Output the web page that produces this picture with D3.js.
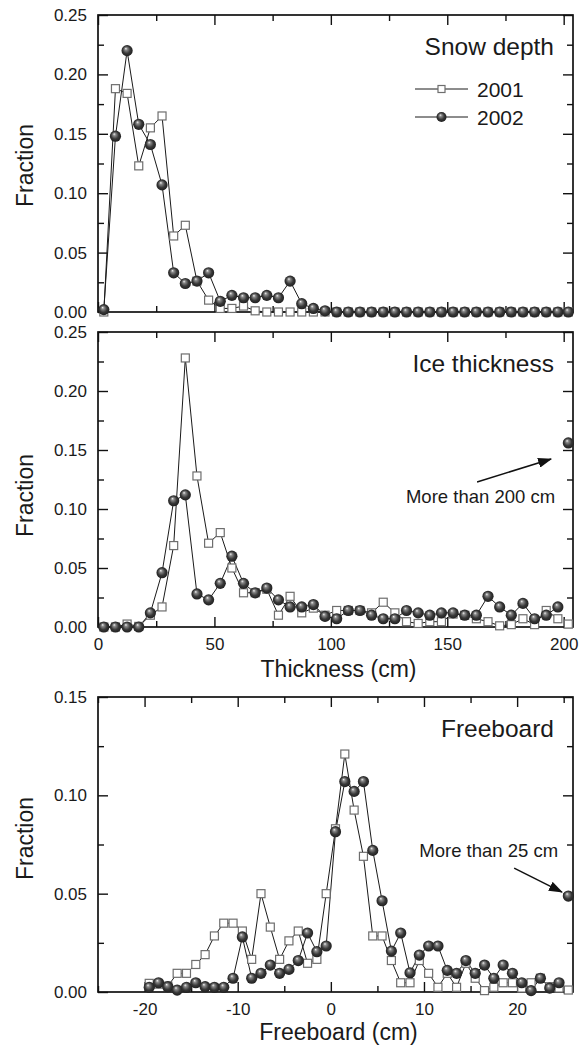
<!DOCTYPE html>
<html>
<head>
<meta charset="utf-8">
<script src="https://cdn.jsdelivr.net/npm/d3@7"></script>
<style>
body { margin: 0; background: #fff; }
text { font-family: "Liberation Sans", Arial, sans-serif; fill: #1a1a1a; }
</style>
</head>
<body>
<div id="wrapper"></div>
<script>
// Data: bin centres (last bin = "more than" class)
const thickBins = [2.5,7.5,12.5,17.5,22.5,27.5,32.5,37.5,42.5,47.5,52.5,57.5,62.5,67.5,72.5,77.5,82.5,87.5,92.5,97.5,
  102.5,107.5,112.5,117.5,122.5,127.5,132.5,137.5,142.5,147.5,152.5,157.5,162.5,167.5,172.5,177.5,182.5,187.5,192.5,197.5,202]
const freeBins = [-19.5,-18.5,-17.5,-16.5,-15.5,-14.5,-13.5,-12.5,-11.5,-10.5,-9.5,-8.5,-7.5,-6.5,-5.5,-4.5,-3.5,-2.5,-1.5,-0.5,
  0.5,1.5,2.5,3.5,4.5,5.5,6.5,7.5,8.5,9.5,10.5,11.5,12.5,13.5,14.5,15.5,16.5,17.5,18.5,19.5,20.5,21.5,22.5,23.5,24.5,25.5]

const snow2001 = [0,0.188,0.184,0.123,0.155,0.165,0.064,0.073,0.026,0.010,0.003,0.003,0.005,0.001,
  0,0,0,0,0,0,0,0,0,0,0,0,0,0,0,0,0,0,0,0,0,0,0,0,0,0,0]
const snow2002 = [0.002,0.148,0.220,0.158,0.141,0.107,0.033,0.024,0.026,0.033,0.009,0.014,0.012,0.012,0.014,0.012,0.026,0.007,0.003,0.001,
  0,0,0,0,0,0,0,0,0,0,0,0,0,0,0,0,0,0,0,0,0]

const ice2001 = [0,0,0.0025,0.0005,0.010,0.017,0.069,0.228,0.128,0.071,0.080,0.050,0.029,0.029,0.032,0.010,0.026,0.012,0.016,0.010,
  0.014,0.014,0.014,0.012,0.021,0.012,0.0045,0.003,0.0045,0.0045,0.011,0.010,0.007,0.0045,0.001,0.002,0.007,0.002,0.014,0.007,0.0025]
const ice2002 = [0,0,0,0,0.012,0.046,0.107,0.112,0.028,0.023,0.037,0.060,0.037,0.029,0.033,0.023,0.017,0.017,0.019,0.009,
  0.007,0.014,0.014,0.010,0.007,0.007,0.014,0.012,0.010,0.012,0.012,0.010,0.010,0.026,0.017,0.010,0.020,0.007,0.010,0.017,0.156]

const free2001 = [0.0044,0.004,0.003,0.0095,0.0095,0.014,0.019,0.0285,0.035,0.035,0.031,0.0166,0.050,0.033,0.0166,0.026,0.031,0.0146,0.0166,0.050,
  0.083,0.121,0.0925,0.069,0.0285,0.0285,0.016,0.0047,0.0047,0.016,0.0095,0.0024,0.0095,0.0024,0.0146,0.007,0.0007,0.0024,0.0047,0.0047,
  0.002,0.0047,0.007,0.0027,0.002,0.001]
const free2002 = [0.0024,0.0047,0.0027,0.001,0.0024,0.0047,0.0027,0.0024,0.0024,0.007,0.028,0.007,0.0095,0.0137,0.0095,0.0115,0.016,0.030,0.0205,0.0234,
  0.0815,0.107,0.102,0.107,0.072,0.0464,0.0208,0.030,0.0098,0.0188,0.0234,0.0234,0.011,0.0095,0.016,0.0095,0.0137,0.007,0.0137,0.0095,
  0.0047,0.0007,0.007,0.002,0.0047,0.0488]

// Ticks
const thickTicks = [0,50,100,150,200]
const thickMinor = [25,75,125,175]
const freeTicks = [-20,-10,0,10,20]
const freeMinor = [-25,-15,-5,5,15,25]
const fracTicks25 = [0,0.05,0.10,0.15,0.20,0.25]
const fracMinor25 = [0.025,0.075,0.125,0.175,0.225]
const fracTicks15 = [0,0.05,0.10,0.15]
const fracMinor15 = [0.025,0.075,0.125]

const seriesNames = ["2001","2002"]

// Chart dimensions
const dimensions = {
  width: 587, height: 1045,
  left: 98, right: 573,
  panels: [{top: 15, bottom: 312}, {top: 332, bottom: 627}, {top: 697, bottom: 992}]
}

const svg = d3.select("#wrapper").append("svg")
  .attr("width", dimensions.width)
  .attr("height", dimensions.height)
  .style("display", "block")

const defs = svg.append("defs")
const ball = defs.append("radialGradient").attr("id", "ball")
  .attr("cx", "0.5").attr("cy", "0.5").attr("r", "0.55")
  .attr("fx", "0.38").attr("fy", "0.3")
ball.append("stop").attr("offset", "0%").attr("stop-color", "#f4f4f4")
ball.append("stop").attr("offset", "22%").attr("stop-color", "#8a8a8a")
ball.append("stop").attr("offset", "60%").attr("stop-color", "#383838")
ball.append("stop").attr("offset", "100%").attr("stop-color", "#1a1a1a")

defs.append("marker").attr("id", "arrowhead")
  .attr("markerUnits", "userSpaceOnUse")
  .attr("markerWidth", 14).attr("markerHeight", 10)
  .attr("refX", 13).attr("refY", 5).attr("orient", "auto")
  .append("path").attr("d", "M0,0 L14,5 L0,10 Z").attr("fill", "#111")

function drawSquare(g, cx, cy, s) {
  g.append("rect").attr("x", cx - s / 2).attr("y", cy - s / 2)
    .attr("width", s).attr("height", s)
    .attr("fill", "#fff").attr("stroke", "#6e6e6e").attr("stroke-width", 1.2)
}

function drawPanel(p) {
  const dim = dimensions.panels[p.index]
  const xScale = d3.scaleLinear().domain(p.xDomain).range([dimensions.left, dimensions.right])
  const yScale = d3.scaleLinear().domain(p.yDomain).range([dim.bottom, dim.top])
  const g = svg.append("g")

  // axes, ticks pointing inward
  const addAxis = (axis, transform) => {
    const a = g.append("g").attr("transform", transform).call(axis)
    a.select(".domain").remove()
    a.selectAll("line").attr("stroke", "#111").attr("stroke-width", 1.4)
    a.selectAll("text").style("font-size", "17px").attr("fill", "#1a1a1a")
    return a
  }
  const fmt = d3.format(".2f")
  addAxis(d3.axisLeft(yScale).tickValues(p.yTicks).tickSize(-10).tickPadding(11).tickFormat(fmt),
    `translate(${dimensions.left},0)`)
  addAxis(d3.axisLeft(yScale).tickValues(p.yMinor).tickSize(-6).tickFormat(""),
    `translate(${dimensions.left},0)`)
  addAxis(d3.axisRight(yScale).tickValues(p.yTicks).tickSize(-10).tickFormat(""),
    `translate(${dimensions.right},0)`)
  addAxis(d3.axisRight(yScale).tickValues(p.yMinor).tickSize(-6).tickFormat(""),
    `translate(${dimensions.right},0)`)
  addAxis(d3.axisTop(xScale).tickValues(p.xTicks).tickSize(-10).tickFormat(""),
    `translate(0,${dim.top})`)
  addAxis(d3.axisTop(xScale).tickValues(p.xMinor).tickSize(-6).tickFormat(""),
    `translate(0,${dim.top})`)
  addAxis(d3.axisBottom(xScale).tickValues(p.xTicks).tickSize(-10).tickPadding(11)
    .tickFormat(p.xLabels ? d => String(d) : ""), `translate(0,${dim.bottom})`)
  addAxis(d3.axisBottom(xScale).tickValues(p.xMinor).tickSize(-6).tickFormat(""),
    `translate(0,${dim.bottom})`)

  // frame
  g.append("rect")
    .attr("x", dimensions.left).attr("y", dim.top)
    .attr("width", dimensions.right - dimensions.left).attr("height", dim.bottom - dim.top)
    .attr("fill", "none").attr("stroke", "#111").attr("stroke-width", 1.7)

  // y label
  g.append("text")
    .attr("transform", `translate(33,${(dim.top + dim.bottom) / 2 + p.labelShift}) rotate(-90)`)
    .attr("text-anchor", "middle").style("font-size", "23px")
    .text("Fraction")

  // x label
  if (p.xTitle) {
    g.append("text")
      .attr("x", (dimensions.left + dimensions.right) / 2 + 3).attr("y", dim.bottom + p.xTitleOffset)
      .attr("text-anchor", "middle").style("font-size", "23px")
      .text(p.xTitle)
  }

  // panel title
  g.append("text")
    .attr("x", 554).attr("y", dim.top + 40)
    .attr("text-anchor", "end").style("font-size", "24.5px")
    .text(p.title)

  // series: line over regular bins, markers on all bins
  const line = d3.line().x(d => xScale(d[0])).y(d => yScale(d[1]))
  const pts2001 = p.bins.map((b, i) => [b, p.s2001[i]])
  const pts2002 = p.bins.map((b, i) => [b, p.s2002[i]])
  ;[pts2001, pts2002].forEach(pts => {
    g.append("path").datum(pts.slice(0, -1)).attr("d", line)
      .attr("fill", "none").attr("stroke", "#1a1a1a").attr("stroke-width", 1)
  })
  const sq = g.append("g")
  pts2001.forEach(d => drawSquare(sq, xScale(d[0]), yScale(d[1]), 8))
  g.append("g").selectAll("circle").data(pts2002).join("circle")
    .attr("cx", d => xScale(d[0])).attr("cy", d => yScale(d[1]))
    .attr("r", 5.6).attr("fill", "url(#ball)")

  // "more than" annotation
  if (p.note) {
    g.append("text")
      .attr("x", xScale(p.note.tx)).attr("y", yScale(p.note.ty))
      .attr("text-anchor", "end").style("font-size", "18.5px")
      .text(p.note.text)
    g.append("line")
      .attr("x1", xScale(p.note.from[0])).attr("y1", yScale(p.note.from[1]))
      .attr("x2", xScale(p.note.to[0])).attr("y2", yScale(p.note.to[1]))
      .attr("stroke", "#111").attr("stroke-width", 1.5)
      .attr("marker-end", "url(#arrowhead)")
  }

  // legend
  if (p.legend) {
    const rows = [89, 117]
    seriesNames.forEach((name, i) => {
      const lg = g.append("g")
      lg.append("line").attr("x1", 415).attr("x2", 468).attr("y1", rows[i]).attr("y2", rows[i])
        .attr("stroke", "#1a1a1a").attr("stroke-width", 1)
      if (i === 0) drawSquare(lg, 441.5, rows[i], 7)
      else lg.append("circle").attr("cx", 441.5).attr("cy", rows[i]).attr("r", 5).attr("fill", "url(#ball)")
      lg.append("text").attr("x", 477).attr("y", rows[i] + 7.5)
        .style("font-size", "21px").text(name)
    })
  }
}

drawPanel({
  index: 0, title: "Snow depth", bins: thickBins, s2001: snow2001, s2002: snow2002,
  xDomain: [0, 204], yDomain: [0, 0.25], xTicks: thickTicks, xMinor: thickMinor,
  yTicks: fracTicks25, yMinor: fracMinor25, xLabels: false, labelShift: 2, legend: true
})
drawPanel({
  index: 1, title: "Ice thickness", bins: thickBins, s2001: ice2001, s2002: ice2002,
  xDomain: [0, 204], yDomain: [0, 0.25], xTicks: thickTicks, xMinor: thickMinor,
  yTicks: fracTicks25, yMinor: fracMinor25, xLabels: true, labelShift: 16,
  xTitle: "Thickness (cm)", xTitleOffset: 50,
  note: {text: "More than 200 cm", tx: 196.3, ty: 0.105, from: [162.8, 0.1229], to: [194.6, 0.1424]}
})
drawPanel({
  index: 2, title: "Freeboard", bins: freeBins, s2001: free2001, s2002: free2002,
  xDomain: [-25, 26], yDomain: [0, 0.15], xTicks: freeTicks, xMinor: freeMinor,
  yTicks: fracTicks15, yMinor: fracMinor15, xLabels: true, labelShift: -6,
  xTitle: "Freeboard (cm)", xTitleOffset: 48,
  note: {text: "More than 25 cm", tx: 24.4, ty: 0.0686, from: [19.68, 0.063], to: [24.82, 0.0508]}
})
</script>
</body>
</html>
